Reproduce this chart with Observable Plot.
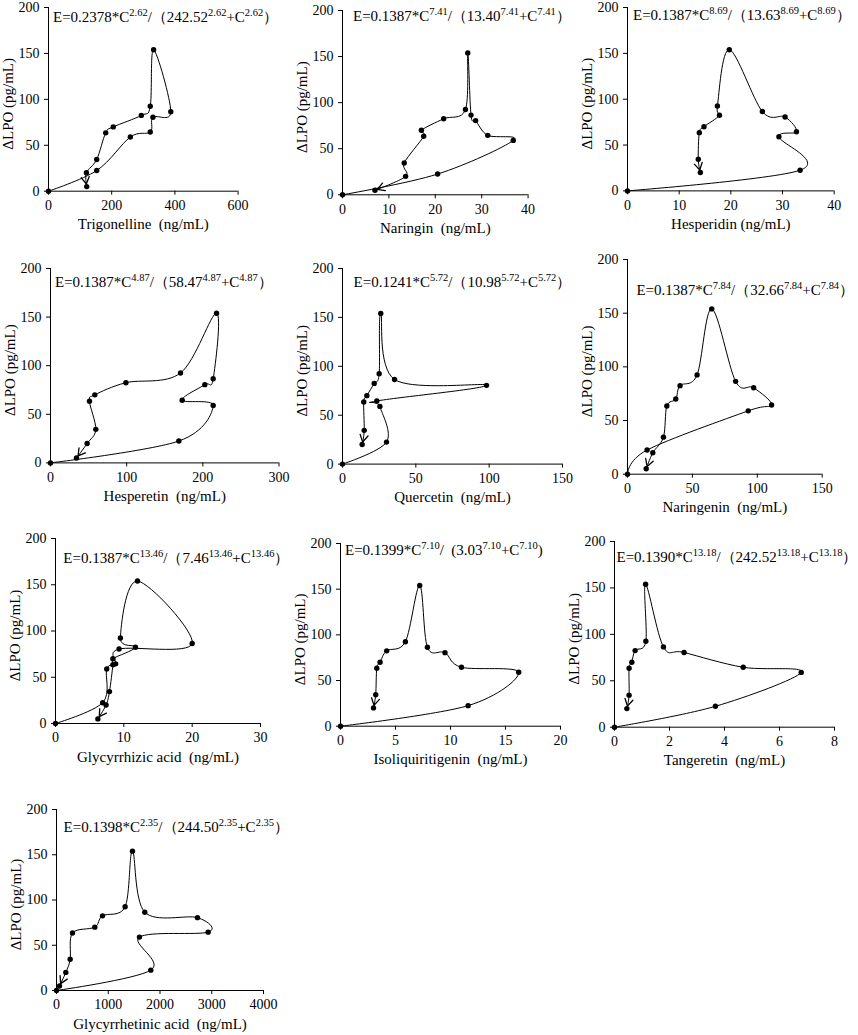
<!DOCTYPE html>
<html><head><meta charset="utf-8">
<script src="https://cdn.jsdelivr.net/npm/d3@7"></script>
<script src="https://cdn.jsdelivr.net/npm/@observablehq/plot@0.6"></script>
<style>
body{margin:0;background:#fff;}
#wrap{position:relative;width:858px;height:1035px;overflow:hidden;background:#fff;}
</style></head><body><div id="wrap"></div>
<script>
// ΔLPO (pg/mL) in time order, shared by all panels
const lpo = [0, 22.5, 59, 64.5, 80.5, 86.5, 154, 92.5, 82.5, 70, 63.5, 34.5, 20, 5];

const compounds = ["Trigonelline", "Naringin", "Hesperidin", "Hesperetin", "Quercetin",
  "Naringenin", "Glycyrrhizic acid", "Isoliquiritigenin", "Tangeretin", "Glycyrrhetinic acid"];

// concentrations (ng/mL) in time order
const concTrigonelline = [0, 152.6, 259, 322, 330.5, 387, 332.6, 322, 293.7, 205, 181, 152.6, 120, 121];
const concNaringin = [0, 20.5, 36.8, 31.3, 28.7, 27.7, 27.0, 26.5, 21.8, 17.0, 17.5, 13.3, 13.6, 7.0];
const concHesperidin = [0, 33.4, 29.3, 32.7, 30.5, 26.1, 19.7, 17.4, 17.8, 14.8, 13.9, 13.7, 14.1];
const concHesperetin = [0, 168.5, 213.6, 172.9, 202.6, 213.6, 218, 170.7, 99, 58.2, 51.2, 59.5, 48.1, 34.1];
const concQuercetin = [0, 30, 25.5, 23.4, 98.2, 35.5, 26.1, 25, 21.6, 16.6, 14.5, 14.8, 13.4];
const concNaringenin = [0, 15.1, 93, 111, 97.2, 83.3, 64.9, 53.6, 40.5, 37.2, 30.3, 27.7, 19.5, 14.4];
const concGlycyrrhizic = [0, 6.9, 7.5, 8.8, 9.3, 20.0, 12.0, 9.5, 11.7, 8.4, 8.4, 7.9, 7.4, 6.2];
const concIsoliquiritigenin = [0, 11.6, 16.2, 11.0, 9.5, 7.9, 7.2, 5.9, 4.2, 3.6, 3.3, 3.2, 3.0];
const concTangeretin = [0, 3.67, 6.79, 4.68, 2.53, 1.78, 1.13, 1.14, 0.75, 0.63, 0.53, 0.53, 0.45];
const concGlycyrrhetinic = [0, 1822, 1603, 2930, 2724, 1706, 1468, 1326, 889, 740, 309, 264, 180, 58];

const concs = [concTrigonelline, concNaringin, concHesperidin, concHesperetin, concQuercetin,
  concNaringenin, concGlycyrrhizic, concIsoliquiritigenin, concTangeretin, concGlycyrrhetinic];

// axis tick labels
const xMax = [600, 40, 40, 300, 150, 150, 30, 20, 8, 4000];
const xStep = [200, 10, 10, 100, 50, 50, 10, 5, 2, 1000];
const yTicks = [0, 50, 100, 150, 200];

// fitted equations
const fitCoef = ["0.2378", "0.1387", "0.1387", "0.1387", "0.1241", "0.1387", "0.1387", "0.1399", "0.1390", "0.1398"];
const fitExp = ["2.62", "7.41", "8.69", "4.87", "5.72", "7.84", "13.46", "7.10", "13.18", "2.35"];
const fitK = ["242.52", "13.40", "13.63", "58.47", "10.98", "32.66", "7.46", "3.03", "242.52", "244.50"];
const fitWide = [true, true, true, true, true, true, true, false, true, true];
const yTitle = "ΔLPO (pg/mL)";

// ---- layout (pixel frames: yAxisX, xAxisEndX, zeroY, topY) ----
const frames = [
  [47.7, 237.3, 191, 7.3],
  [341.7, 527.3, 194.3, 10],
  [627.3, 834, 190.7, 7.3],
  [50, 278.5, 462.7, 268.3],
  [341.7, 561.7, 463.3, 267.7],
  [627.3, 822, 473.7, 259],
  [55, 260, 723.3, 538.3],
  [340, 560, 726, 543.3],
  [614.3, 834.3, 726.7, 541],
  [55.7, 262.7, 990, 809]
];
const formulaPos = [[5, 15], [11, 10.7], [6, 12.7], [5, 19.4], [11.6, 19], [9.4, 36], [8.3, 25], [5, 12.5], [2.5, 21], [7.6, 22.6]];
const xTitleSep = [true, true, false, true, true, true, true, true, true, true];

const FONT = '"Liberation Serif", "Times New Roman", serif';
const mL = 50, mR = 50, mT = 10, mB = 50;

function formulaMark(i) {
  return (index, scales, values, dims) => {
    const [fx, fy] = formulaPos[i];
    const t = d3.create("svg:text")
      .attr("x", dims.marginLeft + fx)
      .attr("y", dims.marginTop + fy)
      .attr("text-anchor", "start")
      .attr("font-size", 15)
      .attr("font-family", FONT)
      .attr("fill", "black")
      .attr("xml:space", "preserve")
      .style("white-space", "pre");
    const open = fitWide[i] ? "/（" : "/  (";
    const close = fitWide[i] ? "）" : ")";
    const parts = [
      ["E=" + fitCoef[i] + "*C", false], [fitExp[i], true],
      [open + fitK[i], false], [fitExp[i], true],
      ["+C", false], [fitExp[i], true], [close, false]
    ];
    let up = false;
    for (const [s, sup] of parts) {
      const ts = t.append("tspan").text(s);
      if (sup) { ts.attr("font-size", 10.5).attr("dy", -6); up = true; }
      else if (up) { ts.attr("dy", 6); up = false; }
    }
    return t.node();
  };
}

function yTitleMark() {
  return (index, scales, values, dims) => {
    const cx = dims.marginLeft - 40;
    const cy = (dims.marginTop + dims.height - dims.marginBottom) / 2 + 5;
    return d3.create("svg:text")
      .attr("transform", `translate(${cx},${cy}) rotate(-90)`)
      .attr("text-anchor", "middle")
      .attr("dy", "0.35em")
      .attr("font-size", 15)
      .attr("font-family", FONT)
      .attr("fill", "black")
      .text(yTitle).node();
  };
}

const wrap = document.getElementById("wrap");

compounds.forEach((name, i) => {
  const [xl, xr, yb, yt] = frames[i];
  const c = concs[i];
  const data = c.map((v, k) => ({c: v, e: lpo[k]}));
  const xt = d3.range(0, xMax[i] + xStep[i] / 2, xStep[i]);
  const xTitle = name + (xTitleSep[i] ? "\u00a0 " : " ") + "(ng/mL)";
  const plot = Plot.plot({
    width: (xr - xl) + mL + mR,
    height: (yb - yt) + mT + mB,
    marginLeft: mL, marginRight: mR, marginTop: mT, marginBottom: mB,
    style: {fontFamily: FONT, fontSize: "14px", color: "black", background: "transparent", overflow: "visible"},
    x: {domain: [0, xMax[i]]},
    y: {domain: [0, 200]},
    marks: [
      Plot.axisX({ticks: xt, tickSize: 4, tickPadding: 5, label: null, tickFormat: d => String(d), fontSize: 14}),
      Plot.axisY({ticks: yTicks, tickSize: 4, tickPadding: 5, label: null, tickFormat: d => String(d), fontSize: 14}),
      Plot.ruleY([0], {stroke: "black", strokeWidth: 1}),
      Plot.ruleX([0], {stroke: "black", strokeWidth: 1}),
      Plot.line(data, {x: "c", y: "e", curve: "cardinal", stroke: "black", strokeWidth: 1}),
      Plot.dot(data, {x: "c", y: "e", r: 2.7, fill: "black", stroke: "none"}),
      Plot.text([xTitle], {text: d => d, frameAnchor: "bottom", dy: 38, fontSize: 15, fill: "black"}),
      yTitleMark(),
      formulaMark(i)
    ]
  });
  plot.style.position = "absolute";
  plot.style.left = (xl - mL) + "px";
  plot.style.top = (yt - mT) + "px";
  plot.style.maxWidth = "none";
  wrap.appendChild(plot);

  // open arrowhead at the end of the trajectory
  const path = plot.querySelector('g[aria-label="line"] path');
  if (path) {
    const L = path.getTotalLength();
    const pe = path.getPointAtLength(L);
    const pp = path.getPointAtLength(Math.max(0, L - 5));
    const a = Math.atan2(pe.y - pp.y, pe.x - pp.x);
    const tx = pe.x - 2.6 * Math.cos(a), ty = pe.y - 2.6 * Math.sin(a);
    const len = 8, spread = Math.PI / 6;
    const p1 = [tx - len * Math.cos(a - spread), ty - len * Math.sin(a - spread)];
    const p2 = [tx - len * Math.cos(a + spread), ty - len * Math.sin(a + spread)];
    d3.select(path.parentNode).append("path")
      .attr("d", `M${p1[0]},${p1[1]}L${tx},${ty}L${p2[0]},${p2[1]}`)
      .attr("fill", "none").attr("stroke", "black").attr("stroke-width", 1.3);
  }
});
</script>
</body></html>
